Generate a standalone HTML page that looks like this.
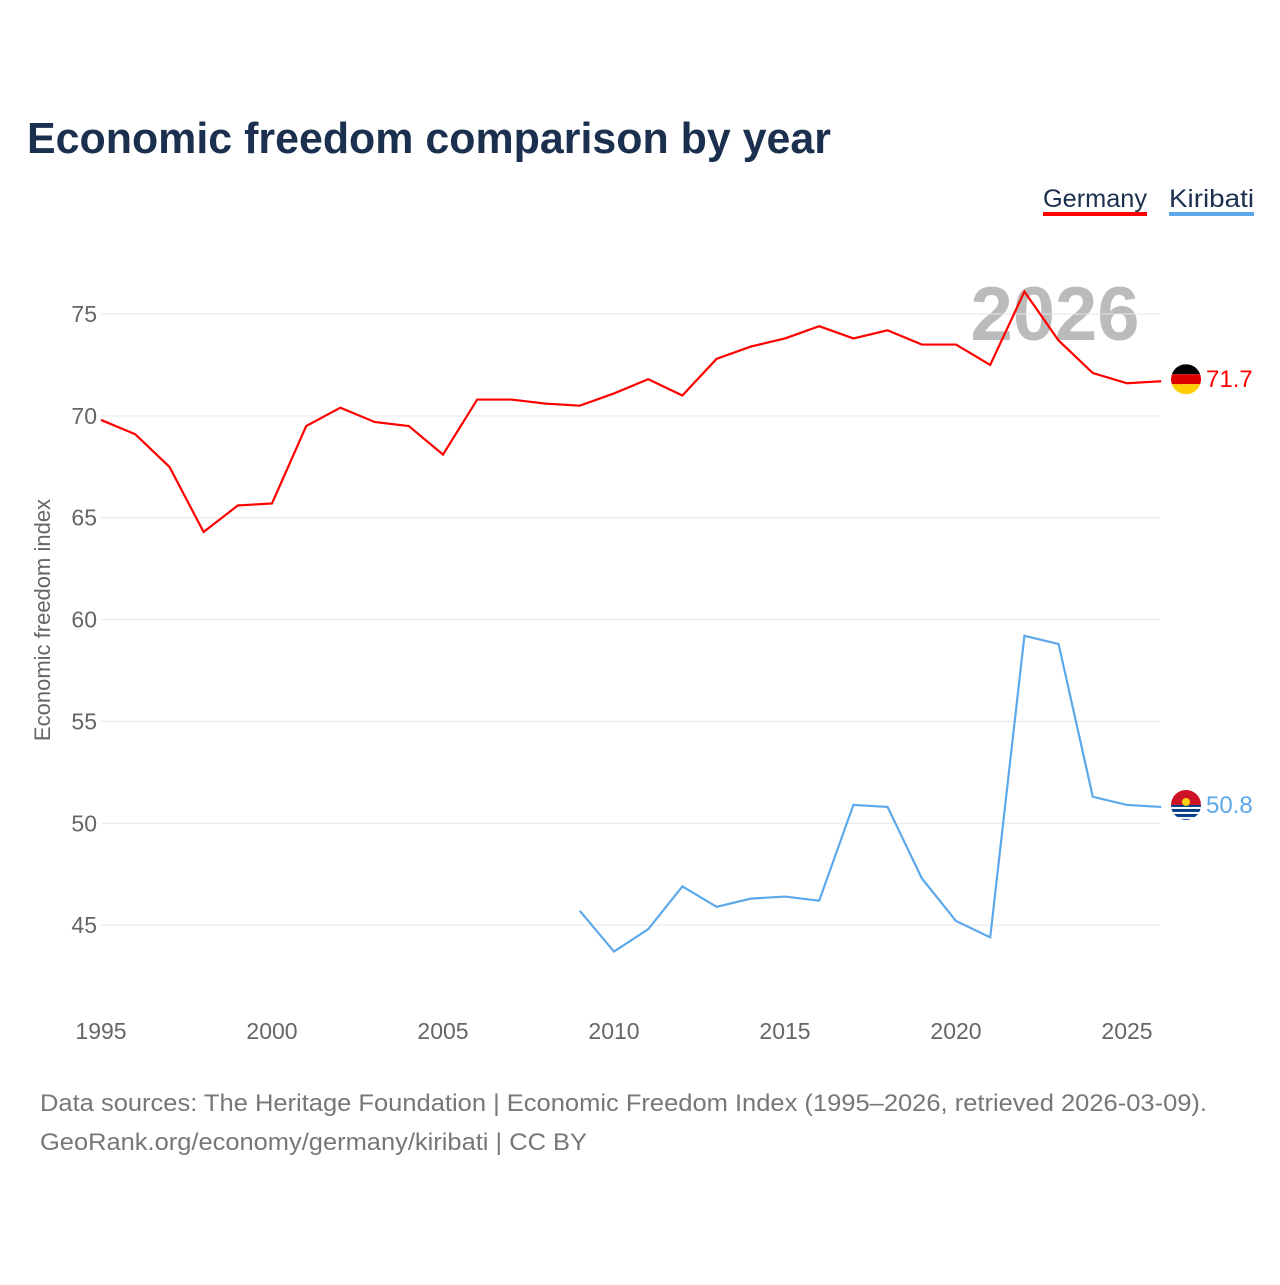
<!DOCTYPE html>
<html><head><meta charset="utf-8"><style>
body{margin:0;background:#fff;font-family:"Liberation Sans",sans-serif}
svg text{font-family:"Liberation Sans",sans-serif}
</style></head><body>
<svg id="chart" width="1280" height="1280" xmlns="http://www.w3.org/2000/svg">
<text x="27" y="153" font-size="44" font-weight="bold" fill="#1b2f4e" textLength="804" lengthAdjust="spacingAndGlyphs">Economic freedom comparison by year</text>
<g>
<text x="1043" y="207" font-size="25" fill="#1b2f4e" textLength="104" lengthAdjust="spacingAndGlyphs">Germany</text>
<rect x="1043" y="212" width="104" height="4" fill="#ff0000"/>
<text x="1169" y="207" font-size="25" fill="#1b2f4e" textLength="85" lengthAdjust="spacingAndGlyphs">Kiribati</text>
<rect x="1169" y="212" width="85" height="4" fill="#5da8ea"/>
</g>
<text x="1055" y="340" font-size="76" font-weight="bold" fill="#bbb" text-anchor="middle">2026</text>
<g id="grid"></g><g id="lines"></g>
<text transform="translate(50,620) rotate(-90)" font-size="22" fill="#666" text-anchor="middle">Economic freedom index</text>
<text x="40" y="1111" font-size="24" fill="#777" textLength="1167" lengthAdjust="spacingAndGlyphs">Data sources: The Heritage Foundation | Economic Freedom Index (1995–2026, retrieved 2026-03-09).</text>
<text x="40" y="1150" font-size="24" fill="#777" textLength="547" lengthAdjust="spacingAndGlyphs">GeoRank.org/economy/germany/kiribati | CC BY</text>
</svg>
<script>
const germanyYears=[1995,1996,1997,1998,1999,2000,2001,2002,2003,2004,2005,2006,2007,2008,2009,2010,2011,2012,2013,2014,2015,2016,2017,2018,2019,2020,2021,2022,2023,2024,2025,2026];
const germanyValues=[69.8,69.1,67.5,64.3,65.6,65.7,69.5,70.4,69.7,69.5,68.1,70.8,70.8,70.6,70.5,71.1,71.8,71.0,72.8,73.4,73.8,74.4,73.8,74.2,73.5,73.5,72.5,76.1,73.7,72.1,71.6,71.7];
const kiribatiYears=[2009,2010,2011,2012,2013,2014,2015,2016,2017,2018,2019,2020,2021,2022,2023,2024,2025,2026];
const kiribatiValues=[45.7,43.7,44.8,46.9,45.9,46.3,46.4,46.2,50.9,50.8,47.3,45.2,44.4,59.2,58.8,51.3,50.9,50.8];
const yTicks=[45,50,55,60,65,70,75];
const xTicks=[1995,2000,2005,2010,2015,2020,2025];
const NS="http://www.w3.org/2000/svg";
const xS=y=>101+(y-1995)*34.2;
const yS=v=>314+(75-v)*20.37;
function mk(t,a,p){const e=document.createElementNS(NS,t);for(const k in a)e.setAttribute(k,a[k]);p.appendChild(e);return e;}
const grid=document.getElementById('grid'),lines=document.getElementById('lines');
yTicks.forEach(v=>{
 const l=mk('line',{x1:101,x2:1160,y1:yS(v),y2:yS(v),stroke:'#e6e6e6','stroke-width':1},grid);
 
 
 const t=mk('text',{x:97,y:yS(v)+8,'font-size':23,fill:'#666','text-anchor':'end'},grid);t.textContent=v;
 
 
});
xTicks.forEach(y=>{
 const t=mk('text',{x:xS(y),y:1039,'font-size':23,fill:'#666','text-anchor':'middle'},grid);t.textContent=y;
 
 
});
function series(years,vals,color,name){
 const d=years.map((y,i)=>(i?'L':'M')+xS(y)+','+yS(vals[i])).join(' ');
 const p=mk('path',{d:d,fill:'none',stroke:color,'stroke-width':2.2},lines);
 
 
 const last=vals[vals.length-1];
 const t=mk('text',{x:1206,y:yS(last)+6,'font-size':24,fill:color},lines);t.textContent=last.toFixed(1);
 
 
 return yS(last);
}
const gy=series(germanyYears,germanyValues,'#ff0000','germany')-2;
const ky=series(kiribatiYears,kiribatiValues,'#5da8ea','kiribati')-2;
const gf=mk('g',{},lines);


mk('clipPath',{id:'cg'},gf).appendChild(document.createElementNS(NS,'circle')).setAttribute('r',15);
const cg=document.querySelector('#cg circle');cg.setAttribute('cx',1186);cg.setAttribute('cy',gy);
[['#000',0],['#dd0000',1],['#ffce00',2]].forEach(([c,i])=>mk('rect',{x:1171,y:gy-15+i*10,width:30,height:10,fill:c,'clip-path':'url(#cg)'},gf));
const kf=mk('g',{},lines);


mk('clipPath',{id:'ck'},kf).appendChild(document.createElementNS(NS,'circle')).setAttribute('r',15);
const ck=document.querySelector('#ck circle');ck.setAttribute('cx',1186);ck.setAttribute('cy',ky);
mk('rect',{x:1171,y:ky-15,width:30,height:15,fill:'#ce1126','clip-path':'url(#ck)'},kf);
mk('rect',{x:1171,y:ky,width:30,height:15,fill:'#003f87','clip-path':'url(#ck)'},kf);
mk('circle',{cx:1186,cy:ky-3,r:4,fill:'#fcd116'},kf);
[2,7,12].forEach(o=>mk('rect',{x:1171,y:ky+o,width:30,height:2,fill:'#fff','clip-path':'url(#ck)'},kf));
</script>
</body></html>
